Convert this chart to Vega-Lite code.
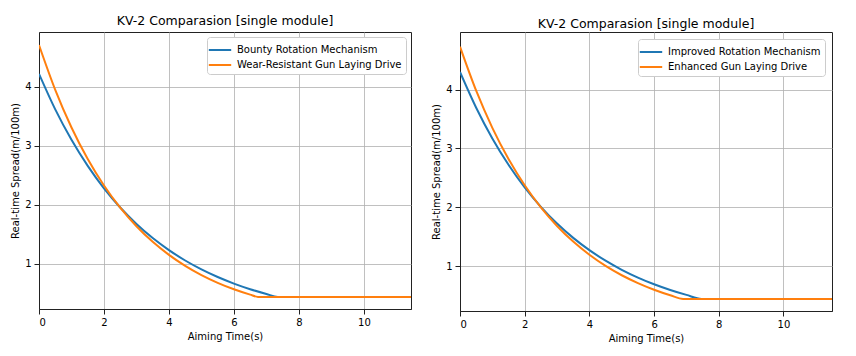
{
  "$schema": "https://vega.github.io/schema/vega-lite/v6.json",
  "padding": {"left": 10, "top": 14, "right": 5, "bottom": 5},
  "spacing": 19,
  "background": "white",
  "datasets": {
    "left": [
      {"t": 0, "spread": 4.22, "module": "Bounty Rotation Mechanism"},
      {"t": 0.5, "spread": 3.618, "module": "Bounty Rotation Mechanism"},
      {"t": 1.0, "spread": 3.102, "module": "Bounty Rotation Mechanism"},
      {"t": 1.5, "spread": 2.660, "module": "Bounty Rotation Mechanism"},
      {"t": 2.0, "spread": 2.280, "module": "Bounty Rotation Mechanism"},
      {"t": 2.5, "spread": 1.955, "module": "Bounty Rotation Mechanism"},
      {"t": 3.0, "spread": 1.677, "module": "Bounty Rotation Mechanism"},
      {"t": 3.5, "spread": 1.437, "module": "Bounty Rotation Mechanism"},
      {"t": 4.0, "spread": 1.233, "module": "Bounty Rotation Mechanism"},
      {"t": 4.5, "spread": 1.057, "module": "Bounty Rotation Mechanism"},
      {"t": 5.0, "spread": 0.906, "module": "Bounty Rotation Mechanism"},
      {"t": 5.5, "spread": 0.777, "module": "Bounty Rotation Mechanism"},
      {"t": 6.0, "spread": 0.666, "module": "Bounty Rotation Mechanism"},
      {"t": 6.5, "spread": 0.571, "module": "Bounty Rotation Mechanism"},
      {"t": 7.0, "spread": 0.490, "module": "Bounty Rotation Mechanism"},
      {"t": 7.35, "spread": 0.44, "module": "Bounty Rotation Mechanism"},
      {"t": 9.0, "spread": 0.44, "module": "Bounty Rotation Mechanism"},
      {"t": 11.45, "spread": 0.44, "module": "Bounty Rotation Mechanism"},
      {"t": 0, "spread": 4.71, "module": "Wear-Resistant Gun Laying Drive"},
      {"t": 0.5, "spread": 3.950, "module": "Wear-Resistant Gun Laying Drive"},
      {"t": 1.0, "spread": 3.312, "module": "Wear-Resistant Gun Laying Drive"},
      {"t": 1.5, "spread": 2.778, "module": "Wear-Resistant Gun Laying Drive"},
      {"t": 2.0, "spread": 2.329, "module": "Wear-Resistant Gun Laying Drive"},
      {"t": 2.5, "spread": 1.953, "module": "Wear-Resistant Gun Laying Drive"},
      {"t": 3.0, "spread": 1.638, "module": "Wear-Resistant Gun Laying Drive"},
      {"t": 3.5, "spread": 1.373, "module": "Wear-Resistant Gun Laying Drive"},
      {"t": 4.0, "spread": 1.152, "module": "Wear-Resistant Gun Laying Drive"},
      {"t": 4.5, "spread": 0.966, "module": "Wear-Resistant Gun Laying Drive"},
      {"t": 5.0, "spread": 0.810, "module": "Wear-Resistant Gun Laying Drive"},
      {"t": 5.5, "spread": 0.679, "module": "Wear-Resistant Gun Laying Drive"},
      {"t": 6.0, "spread": 0.569, "module": "Wear-Resistant Gun Laying Drive"},
      {"t": 6.5, "spread": 0.478, "module": "Wear-Resistant Gun Laying Drive"},
      {"t": 6.74, "spread": 0.44, "module": "Wear-Resistant Gun Laying Drive"},
      {"t": 9.0, "spread": 0.44, "module": "Wear-Resistant Gun Laying Drive"},
      {"t": 11.45, "spread": 0.44, "module": "Wear-Resistant Gun Laying Drive"}
    ],
    "right": [
      {"t": 0, "spread": 4.30, "module": "Improved Rotation Mechanism"},
      {"t": 0.5, "spread": 3.692, "module": "Improved Rotation Mechanism"},
      {"t": 1.0, "spread": 3.170, "module": "Improved Rotation Mechanism"},
      {"t": 1.5, "spread": 2.722, "module": "Improved Rotation Mechanism"},
      {"t": 2.0, "spread": 2.337, "module": "Improved Rotation Mechanism"},
      {"t": 2.5, "spread": 2.007, "module": "Improved Rotation Mechanism"},
      {"t": 3.0, "spread": 1.723, "module": "Improved Rotation Mechanism"},
      {"t": 3.5, "spread": 1.479, "module": "Improved Rotation Mechanism"},
      {"t": 4.0, "spread": 1.270, "module": "Improved Rotation Mechanism"},
      {"t": 4.5, "spread": 1.091, "module": "Improved Rotation Mechanism"},
      {"t": 5.0, "spread": 0.936, "module": "Improved Rotation Mechanism"},
      {"t": 5.5, "spread": 0.804, "module": "Improved Rotation Mechanism"},
      {"t": 6.0, "spread": 0.690, "module": "Improved Rotation Mechanism"},
      {"t": 6.5, "spread": 0.593, "module": "Improved Rotation Mechanism"},
      {"t": 7.0, "spread": 0.509, "module": "Improved Rotation Mechanism"},
      {"t": 7.47, "spread": 0.44, "module": "Improved Rotation Mechanism"},
      {"t": 9.0, "spread": 0.44, "module": "Improved Rotation Mechanism"},
      {"t": 11.5, "spread": 0.44, "module": "Improved Rotation Mechanism"},
      {"t": 0, "spread": 4.73, "module": "Enhanced Gun Laying Drive"},
      {"t": 0.5, "spread": 3.981, "module": "Enhanced Gun Laying Drive"},
      {"t": 1.0, "spread": 3.350, "module": "Enhanced Gun Laying Drive"},
      {"t": 1.5, "spread": 2.820, "module": "Enhanced Gun Laying Drive"},
      {"t": 2.0, "spread": 2.373, "module": "Enhanced Gun Laying Drive"},
      {"t": 2.5, "spread": 1.997, "module": "Enhanced Gun Laying Drive"},
      {"t": 3.0, "spread": 1.681, "module": "Enhanced Gun Laying Drive"},
      {"t": 3.5, "spread": 1.415, "module": "Enhanced Gun Laying Drive"},
      {"t": 4.0, "spread": 1.191, "module": "Enhanced Gun Laying Drive"},
      {"t": 4.5, "spread": 1.002, "module": "Enhanced Gun Laying Drive"},
      {"t": 5.0, "spread": 0.843, "module": "Enhanced Gun Laying Drive"},
      {"t": 5.5, "spread": 0.710, "module": "Enhanced Gun Laying Drive"},
      {"t": 6.0, "spread": 0.597, "module": "Enhanced Gun Laying Drive"},
      {"t": 6.5, "spread": 0.503, "module": "Enhanced Gun Laying Drive"},
      {"t": 6.9, "spread": 0.44, "module": "Enhanced Gun Laying Drive"},
      {"t": 9.0, "spread": 0.44, "module": "Enhanced Gun Laying Drive"},
      {"t": 11.5, "spread": 0.44, "module": "Enhanced Gun Laying Drive"}
    ]
  },
  "resolve": {"scale": {"color": "independent"}, "legend": {"color": "independent"}},
  "hconcat": [
    {
      "data": {"name": "left"},
      "title": {"text": "KV-2 Comparasion [single module]", "offset": 5},
      "width": 372,
      "height": 277,
      "mark": {"type": "line", "strokeWidth": 2, "interpolate": "monotone", "clip": true},
      "encoding": {
        "x": {"field": "t", "type": "quantitative", "title": "Aiming Time(s)",
              "scale": {"domain": [0, 11.45], "nice": false, "zero": false},
              "axis": {"values": [0, 2, 4, 6, 8, 10]}},
        "y": {"field": "spread", "type": "quantitative", "title": "Real-time Spread(m/100m)",
              "scale": {"domain": [0.235, 4.93], "nice": false, "zero": false},
              "axis": {"values": [1, 2, 3, 4]}},
        "color": {"field": "module", "type": "nominal",
                  "scale": {"domain": ["Bounty Rotation Mechanism", "Wear-Resistant Gun Laying Drive"], "range": ["#1f77b4", "#ff7f0e"]},
                  "legend": {"title": null, "orient": "top-right"}}
      }
    },
    {
      "data": {"name": "right"},
      "title": {"text": "KV-2 Comparasion [single module]", "offset": 2},
      "width": 372,
      "height": 279,
      "mark": {"type": "line", "strokeWidth": 2, "interpolate": "monotone", "clip": true},
      "encoding": {
        "x": {"field": "t", "type": "quantitative", "title": "Aiming Time(s)",
              "scale": {"domain": [0, 11.5], "nice": false, "zero": false},
              "axis": {"values": [0, 2, 4, 6, 8, 10]}},
        "y": {"field": "spread", "type": "quantitative", "title": "Real-time Spread(m/100m)",
              "scale": {"domain": [0.235, 4.98], "nice": false, "zero": false},
              "axis": {"values": [1, 2, 3, 4]}},
        "color": {"field": "module", "type": "nominal",
                  "scale": {"domain": ["Improved Rotation Mechanism", "Enhanced Gun Laying Drive"], "range": ["#1f77b4", "#ff7f0e"]},
                  "legend": {"title": null, "orient": "top-right", "offset": 7}}
      }
    }
  ],
  "config": {
    "font": "DejaVu Sans",
    "view": {"stroke": "#222222", "strokeWidth": 1},
    "title": {"font": "DejaVu Sans", "fontSize": 12.5, "fontWeight": "normal", "color": "#000000"},
    "axis": {
      "labelFont": "DejaVu Sans", "labelFontSize": 10, "labelColor": "#000000",
      "titleFont": "DejaVu Sans", "titleFontSize": 10, "titleFontWeight": "normal", "titleColor": "#000000",
      "domainColor": "#222222", "domainWidth": 1,
      "tickColor": "#222222", "tickSize": 5, "tickWidth": 1,
      "labelPadding": 3, "titlePadding": 4,
      "gridColor": "#b0b0b0", "gridWidth": 0.8, "gridOpacity": 1
    },
    "legend": {
      "labelFont": "DejaVu Sans", "labelFontSize": 10, "labelColor": "#000000", "labelLimit": 400,
      "symbolType": "M-1.4,0H1.4", "symbolStrokeWidth": 2, "symbolSize": 256, "symbolFillColor": "transparent",
      "strokeColor": "#cccccc", "fillColor": "#ffffff", "cornerRadius": 3,
      "padding": 4, "rowPadding": 1, "offset": 5, "labelOffset": 8
    }
  }
}
